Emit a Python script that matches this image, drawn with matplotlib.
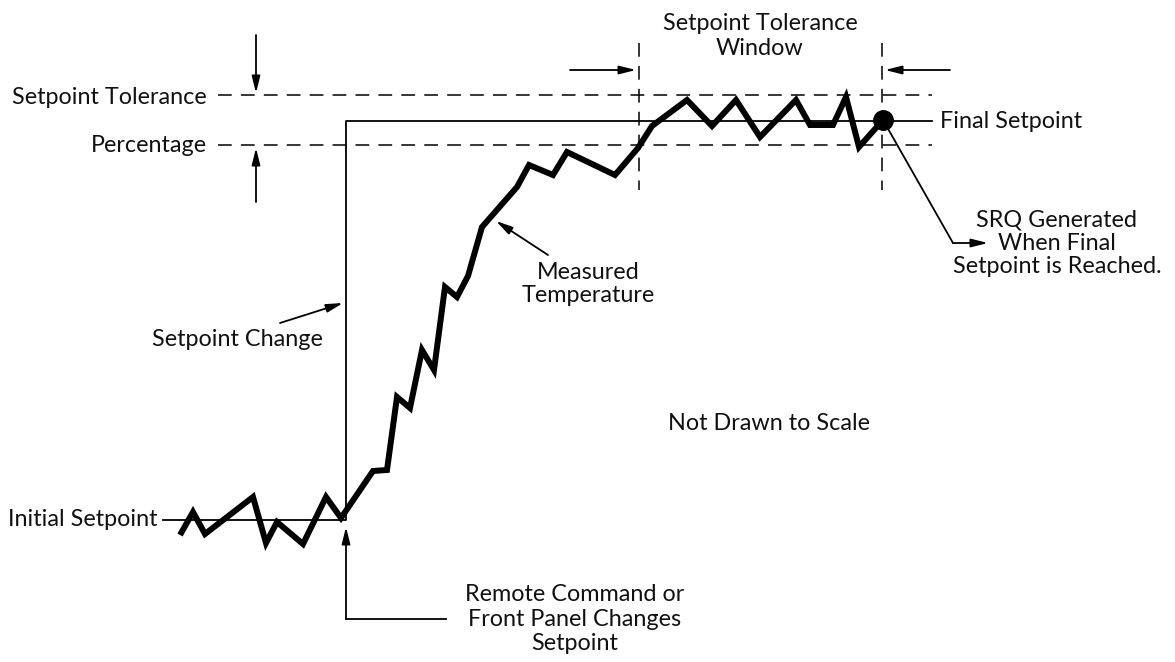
import matplotlib
matplotlib.use("Agg")
import matplotlib.pyplot as plt

# measured temperature trace (drawing units = pixels, y grows downward)
temp_x = [180, 193, 205, 253, 266, 277, 303, 326, 341, 373, 387, 397, 410,
          422, 434, 445, 457, 468, 482, 517, 529, 553, 567, 615, 638, 652,
          687, 712, 736, 760, 796, 810, 833, 846, 859, 883]
temp_y = [535, 512, 534, 497, 543, 522, 544, 497, 518, 471, 470, 397, 408,
          350, 370, 287, 297, 276, 227, 187, 165, 175, 152, 175, 148, 126,
          100, 126, 100, 137, 100, 125, 125, 97, 147, 120]

# setpoint step
setpoint_x = [163, 346, 346, 932]
setpoint_y = [520, 520, 121, 121]

# tolerance band and window
tol_upper = 95
tol_lower = 145
band_x = [218, 932]
window_x = [639, 882]
window_y = [43, 190]

srq_point = (883, 120)

font = ["Lato", "DejaVu Sans"]
fs = 16.8

fig = plt.figure(figsize=(11.75, 6.62), dpi=100)
ax = fig.add_axes([0, 0, 1, 1])
ax.set_xlim(0, 1175)
ax.set_ylim(662, 0)
ax.axis("off")

dash = dict(color="black", lw=1.1, linestyle=(0, (9, 6)))

# tolerance band lines
ax.plot(band_x, [tol_upper, tol_upper], **dash)
ax.plot(band_x, [tol_lower, tol_lower], **dash)
for wx in window_x:
    ax.plot([wx, wx], window_y, **dash)

# setpoint
ax.plot(setpoint_x, setpoint_y, color="black", lw=1.3)

# measured temperature
ax.plot(temp_x, temp_y, color="black", lw=4.3, solid_joinstyle="miter",
        solid_capstyle="butt")
ax.plot(*srq_point, "o", color="black", markersize=14)


def arrow(x0, y0, x1, y1):
    ax.annotate("", xy=(x1, y1), xytext=(x0, y0),
                arrowprops=dict(arrowstyle="-|>,head_length=1.0,head_width=0.25",
                                color="black", lw=1.3, shrinkA=0, shrinkB=0))


arrow(256, 35, 256, 93)
arrow(256, 202, 256, 148)
arrow(570, 70, 636, 70)
arrow(950, 70, 885, 70)
arrow(548, 255, 496, 221)
arrow(280, 323, 343, 303)
arrow(346, 619, 346, 527)
ax.plot([346, 446], [619, 619], color="black", lw=1.3)
ax.plot([887, 953], [127, 243], color="black", lw=1.3)
arrow(953, 243, 988, 243)

txt = dict(fontsize=fs, family=font, color="#111111")
ax.text(207, 97, "Setpoint Tolerance", ha="right", va="center", **txt)
ax.text(207, 146, "Percentage", ha="right", va="center", **txt)
ax.text(760, 36, "Setpoint Tolerance\nWindow", ha="center", va="center",
        linespacing=1.2, **txt)
ax.text(940, 121, "Final Setpoint", ha="left", va="center", **txt)
ax.text(1057, 243, "SRQ Generated\nWhen Final\nSetpoint is Reached.",
        ha="center", va="center", linespacing=1.12, **txt)
ax.text(588, 284, "Measured\nTemperature", ha="center", va="center",
        linespacing=1.1, **txt)
ax.text(237, 340, "Setpoint Change", ha="center", va="center", **txt)
ax.text(769, 424, "Not Drawn to Scale", ha="center", va="center", **txt)
ax.text(158, 520, "Initial Setpoint", ha="right", va="center", **txt)
ax.text(575, 619, "Remote Command or\nFront Panel Changes\nSetpoint",
        ha="center", va="center", linespacing=1.22, **txt)

fig.savefig("out.png", dpi=100, facecolor="white")
